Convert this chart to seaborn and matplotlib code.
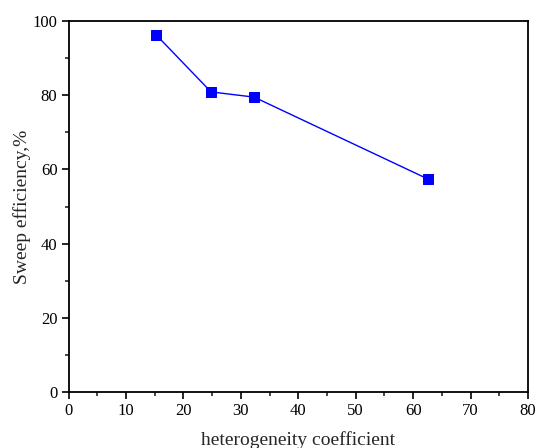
import matplotlib
matplotlib.use("Agg")
import matplotlib.pyplot as plt
import seaborn as sns
import pandas as pd
from matplotlib.ticker import MultipleLocator

heterogeneity = [15.3, 24.8, 32.3, 62.6]
sweep_eff = [96.2, 80.9, 79.5, 57.4]

df = pd.DataFrame({"x": heterogeneity, "y": sweep_eff})

sns.set_style("ticks")
plt.rcParams['font.family'] = ['Liberation Serif', 'DejaVu Serif']
plt.rcParams['mathtext.fontset'] = 'stix'

fig = plt.figure(figsize=(5.36, 4.48), dpi=100)
ax = fig.add_axes([0.128, 0.125, 0.857, 0.828])

sns.lineplot(data=df, x="x", y="y", ax=ax, color="#0000ff", linewidth=1.0,
             marker="s", markersize=7, markeredgecolor="#0000ff", markerfacecolor="#0000ff")

ax.set_xlim(0, 80)
ax.set_ylim(0, 100)
ax.xaxis.set_major_locator(MultipleLocator(10))
ax.xaxis.set_minor_locator(MultipleLocator(5))
ax.yaxis.set_major_locator(MultipleLocator(20))
ax.yaxis.set_minor_locator(MultipleLocator(10))
ax.tick_params(axis="both", which="major", direction="out", length=5, width=1.2,
               labelsize=12, color="black", labelcolor="black", top=False, right=False, pad=3)
ax.tick_params(axis="both", which="minor", direction="out", length=3, width=1.2,
               top=False, right=False)
for s in ax.spines.values():
    s.set_linewidth(1.3)
    s.set_color("black")

ax.set_xlabel("heterogeneity coefficient", fontsize=14, labelpad=9)
ax.set_ylabel("Sweep efficiency,%", fontsize=14, labelpad=1)

fig.savefig("out.png", dpi=100)
